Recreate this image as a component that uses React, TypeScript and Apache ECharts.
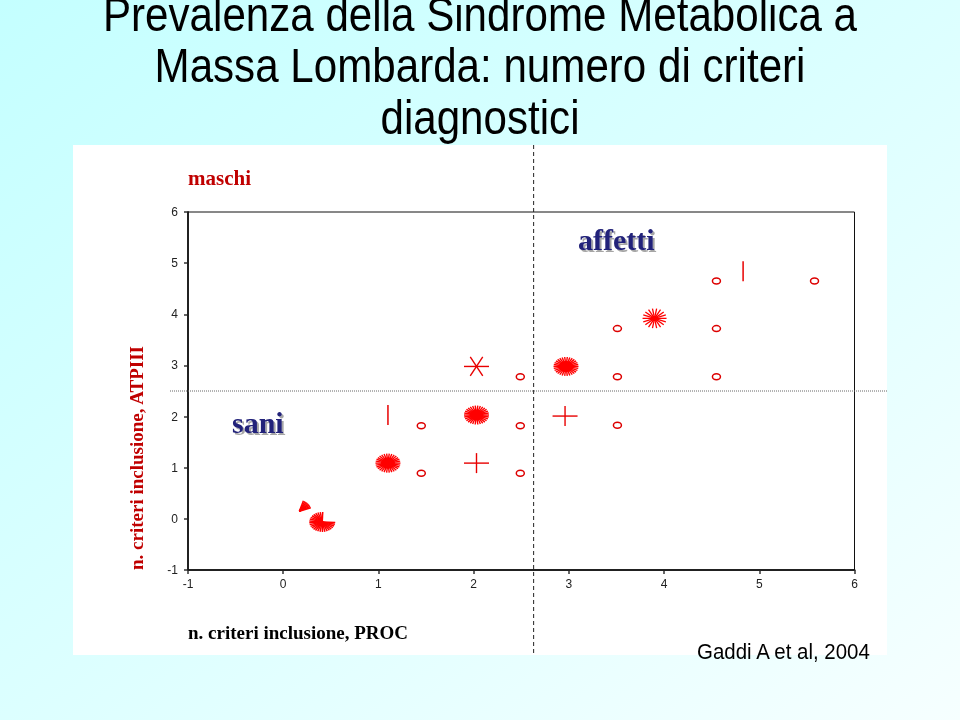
import React, { useEffect, useRef } from 'react';
import * as echarts from 'echarts';

// ---------- data ----------
const titleLines = [
  'Prevalenza della Sindrome Metabolica a',
  'Massa Lombarda: numero di criteri',
  'diagnostici',
];
const xAxisName = 'n. criteri inclusione, PROC';
const yAxisName = 'n. criteri inclusione, ATPIII';
const panelLabel = 'maschi';
const groupHealthy = 'sani';
const groupAffected = 'affetti';
const sourceNote = 'Gaddi A et al, 2004';

const axisMin = -1;
const axisMax = 6;

// cut-off lines (data units)
const cutX = 2.63;
const cutY = 2.5;

// marker positions (x = PROC criteria, y = ATPIII criteria)
const circlePoints = [
  [1.45, 1.82], [2.49, 1.82], [1.45, 0.89], [2.49, 0.89],
  [2.49, 2.78], [3.51, 3.72], [4.55, 3.72], [3.51, 2.78],
  [4.55, 2.78], [3.51, 1.83], [4.55, 4.65], [5.58, 4.65],
];
const barPoints = [[1.1, 2.03], [4.83, 4.84]];
const plusPoints = [[2.03, 1.09], [2.96, 2.01]];
const starPoints = [[2.03, 2.98]];
const sunDensePoints = [[1.1, 1.09], [2.03, 2.03], [2.97, 2.98]];
const sunThinPoints = [[3.9, 3.92]];
const fanPoints = [[0.41, -0.06]];
const arrowPoints = [[0.17, 0.15]];

// ---------- drawing helpers ----------
const RED = '#ff0000';
const LINE_RED = '#e80000';

function rays(cx: number, cy: number, rx: number, ry: number, n: number, lw: number, start = 0, end = 360, color = RED) {
  const out: any[] = [];
  for (let i = 0; i < n; i++) {
    const a = ((start + ((end - start) * i) / n) * Math.PI) / 180;
    out.push({
      type: 'line',
      shape: { x1: cx, y1: cy, x2: cx + rx * Math.cos(a), y2: cy - ry * Math.sin(a) },
      style: { stroke: color, lineWidth: lw },
    });
  }
  return out;
}

const drawers: Record<string, (cx: number, cy: number) => any[]> = {
  circle: (cx, cy) => [
    { type: 'ellipse', shape: { cx, cy, rx: 4, ry: 3 }, style: { fill: 'none', stroke: '#dd0000', lineWidth: 1.5 } },
  ],
  bar: (cx, cy) => [
    { type: 'line', shape: { x1: cx, y1: cy - 10, x2: cx, y2: cy + 10 }, style: { stroke: LINE_RED, lineWidth: 1.5 } },
  ],
  plus: (cx, cy) => [
    { type: 'line', shape: { x1: cx - 12.5, y1: cy, x2: cx + 12.5, y2: cy }, style: { stroke: LINE_RED, lineWidth: 1.4 } },
    { type: 'line', shape: { x1: cx, y1: cy - 10, x2: cx, y2: cy + 10 }, style: { stroke: LINE_RED, lineWidth: 1.4 } },
  ],
  star: (cx, cy) => rays(cx, cy, 12.5, 11, 6, 1.4, 0, 360, LINE_RED),
  sunDense: (cx, cy) => [
    ...rays(cx, cy, 12.5, 9.5, 30, 1.4),
    { type: 'ellipse', shape: { cx, cy, rx: 7, ry: 5.5 }, style: { fill: RED } },
  ],
  sunThin: (cx, cy) => [
    ...rays(cx, cy, 12, 10, 18, 1.3),
    { type: 'ellipse', shape: { cx, cy, rx: 3, ry: 2.5 }, style: { fill: RED } },
  ],
  fan: (cx, cy) => rays(cx, cy, 13, 10, 26, 1.5, 88, 368),
  arrow: (cx, cy) => rays(cx, cy, 12, 11, 8, 1.5, 18, 78),
};

function markerSeries(name: string, data: number[][], kind: string) {
  return {
    type: 'custom',
    name,
    data,
    encode: { x: 0, y: 1 },
    z: 5,
    renderItem: (_params: any, api: any) => {
      const p = api.coord([api.value(0), api.value(1)]);
      return { type: 'group', children: drawers[kind](p[0], p[1]) };
    },
  };
}

const SANS = '"Liberation Sans", Arial, Helvetica, sans-serif';
const SERIF = '"Liberation Serif", "Times New Roman", Times, serif';

export default function App() {
  const ref = useRef<HTMLDivElement>(null);

  useEffect(() => {
    if (!ref.current) return;
    const chart = echarts.init(ref.current, undefined, { renderer: 'svg', width: 960, height: 720 });

    const axisCommon = {
      type: 'value',
      min: axisMin,
      max: axisMax,
      interval: 1,
      axisLine: { show: true, onZero: false, lineStyle: { color: '#333', width: 2 } },
      axisTick: { show: true, length: 4, lineStyle: { color: '#333', width: 1.5 } },
      splitLine: { show: false },
    };

    chart.setOption({
      animation: false,
      grid: {
        left: 188,
        top: 212,
        right: 105.5,
        bottom: 150,
        show: true,
        borderColor: '#111',
        borderWidth: 1,
        backgroundColor: 'transparent',
        z: 1,
      },
      xAxis: {
        ...axisCommon,
        axisLabel: { color: '#222', fontSize: 12, fontFamily: SANS, margin: 8 },
      },
      yAxis: {
        ...axisCommon,
        axisLabel: { color: '#222', fontSize: 12, fontFamily: SANS, margin: 10 },
      },
      series: [
        markerSeries('circle', circlePoints, 'circle'),
        markerSeries('bar', barPoints, 'bar'),
        markerSeries('plus', plusPoints, 'plus'),
        markerSeries('star', starPoints, 'star'),
        markerSeries('sunDense', sunDensePoints, 'sunDense'),
        markerSeries('sunThin', sunThinPoints, 'sunThin'),
        markerSeries('fan', fanPoints, 'fan'),
        markerSeries('arrow', arrowPoints, 'arrow'),
      ],
    });

    const cut = chart.convertToPixel({ gridIndex: 0 }, [cutX, cutY]) as number[];

    const panel = { x: 73, y: 145, w: 814, h: 510 };

    const graphic: any[] = [
      {
        type: 'rect',
        z: -20,
        shape: { x: 0, y: 0, width: 960, height: 720 },
        style: {
          fill: new echarts.graphic.LinearGradient(0, 0, 1, 1, [
            { offset: 0, color: '#c4ffff' },
            { offset: 0.5, color: '#dcffff' },
            { offset: 1, color: '#f6ffff' },
          ]),
        },
        silent: true,
      },
      {
        type: 'rect',
        z: -19,
        shape: { x: panel.x, y: panel.y, width: panel.w, height: panel.h },
        style: { fill: '#ffffff' },
        silent: true,
      },
      // cut-off lines
      {
        type: 'line',
        z: 3,
        shape: { x1: cut[0], y1: panel.y, x2: cut[0], y2: panel.y + panel.h },
        style: { stroke: '#222', lineWidth: 1, lineDash: [4, 3] },
        silent: true,
      },
      {
        type: 'line',
        z: 3,
        shape: { x1: 170, y1: cut[1], x2: panel.x + panel.w, y2: cut[1] },
        style: { stroke: '#666', lineWidth: 1, lineDash: [1, 1] },
        silent: true,
      },
      // title
      ...titleLines.map((t, i) => ({
        type: 'text',
        z: 10,
        x: 480,
        y: 14 + i * 51.5,
        scaleX: 0.86,
        style: {
          text: t,
          font: `49px ${SANS}`,
          fill: '#000',
          textAlign: 'center',
          textVerticalAlign: 'middle',
        },
      })),
      {
        type: 'text',
        z: 10,
        x: 188,
        y: 178,
        style: { text: panelLabel, font: `bold 21px ${SERIF}`, fill: '#c00000', textAlign: 'left', textVerticalAlign: 'middle' },
      },
      {
        type: 'text',
        z: 10,
        x: 578,
        y: 239,
        style: {
          text: groupAffected,
          font: `bold 30px ${SERIF}`,
          fill: '#24247a',
          textAlign: 'left',
          textVerticalAlign: 'middle',
          textShadowColor: 'rgba(0,0,0,0.35)',
          textShadowOffsetX: 2,
          textShadowOffsetY: 2,
          textShadowBlur: 1,
        },
      },
      {
        type: 'text',
        z: 10,
        x: 232,
        y: 422,
        style: {
          text: groupHealthy,
          font: `bold 30px ${SERIF}`,
          fill: '#24247a',
          textAlign: 'left',
          textVerticalAlign: 'middle',
          textShadowColor: 'rgba(0,0,0,0.35)',
          textShadowOffsetX: 2,
          textShadowOffsetY: 2,
          textShadowBlur: 1,
        },
      },
      {
        type: 'text',
        z: 10,
        x: 136,
        y: 458,
        rotation: Math.PI / 2,
        style: { text: yAxisName, font: `bold 19px ${SERIF}`, fill: '#c00000', textAlign: 'center', textVerticalAlign: 'middle' },
      },
      {
        type: 'text',
        z: 10,
        x: 188,
        y: 632,
        style: { text: xAxisName, font: `bold 19px ${SERIF}`, fill: '#000', textAlign: 'left', textVerticalAlign: 'middle' },
      },
      {
        type: 'text',
        z: 10,
        x: 697,
        y: 652,
        scaleX: 0.93,
        style: { text: sourceNote, font: `22px ${SANS}`, fill: '#000', textAlign: 'left', textVerticalAlign: 'middle' },
      },
    ];

    chart.setOption({ graphic });

    return () => {
      chart.dispose();
    };
  }, []);

  return (
    <div
      ref={ref}
      style={{ position: 'fixed', left: 0, top: 0, width: 960, height: 720 }}
    />
  );
}
